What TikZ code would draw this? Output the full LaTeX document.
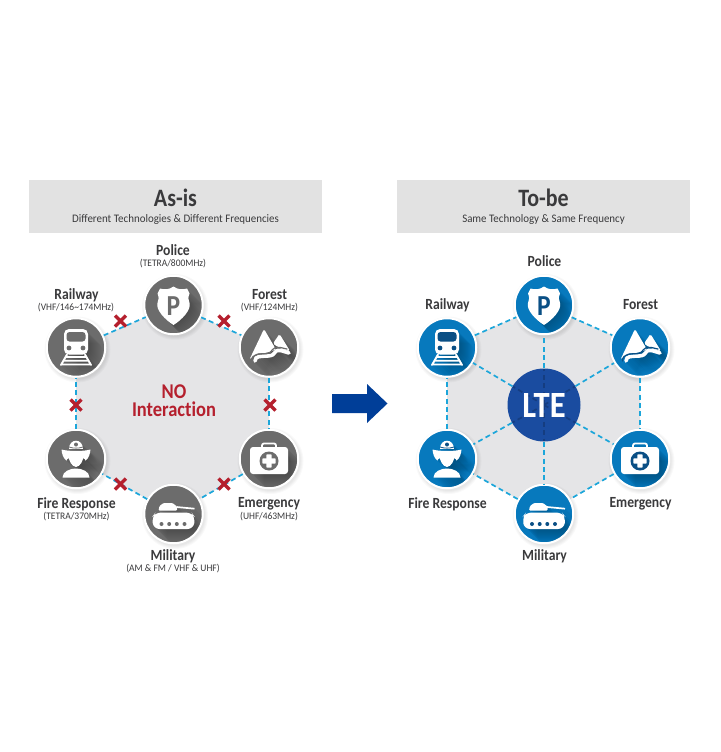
\documentclass[tikz,border=0pt]{standalone}
\usepackage{fontspec}
\setmainfont{Carlito}[Ligatures=NoCommon]
\newfontfamily\fmain[FakeStretch=0.88,Ligatures=NoCommon]{Carlito}
\newfontfamily\fsub[FakeStretch=0.95,Ligatures=NoCommon]{Carlito}
\usetikzlibrary{backgrounds,calc}
\definecolor{txt}{HTML}{3A3A3C}
\definecolor{boxc}{HTML}{E2E2E2}
\definecolor{hexc}{HTML}{E5E5E7}
\definecolor{dashc}{HTML}{1CA6DA}
\definecolor{redx}{HTML}{B5202E}
\definecolor{greyc}{HTML}{6C6C6C}
\definecolor{bluec}{HTML}{0779BD}
\definecolor{bluedk}{HTML}{0A4F85}
\definecolor{ltec}{HTML}{1A4CA0}
\definecolor{arrowc}{HTML}{003E98}
\colorlet{fg}{greyc}
\tikzset{
  x=1pt,y=-1pt,
  hub/.style={circle,minimum size=58.5pt,inner sep=0pt,draw=white,line width=2pt,fill=#1},
  link/.style={dashc,line width=1.7pt,dash pattern=on 5pt off 3.4pt},
  hexbg/.style={fill=hexc,draw=none},
  title/.style={font=\fontsize{25}{25}\fmain\bfseries,text=txt,inner sep=0pt},
  subt/.style={font=\fontsize{11.5}{12}\fsub,text=txt,inner sep=0pt},
  lab/.style={font=\fontsize{15.5}{15}\fmain\bfseries,text=txt,inner sep=0pt},
  sublab/.style={font=\fontsize{10}{10}\fsub,text=txt,inner sep=0pt},
  redlab/.style={font=\fontsize{21}{18}\fmain\bfseries,text=redx,inner sep=0pt,align=center},
  xmark/.style={draw=redx,line width=3.2pt},
  ic/.style={fill=white,draw=white},
  icshadow/.style={fill=black,draw=black,opacity=.018},
}
\newcommand{\xat}[1]{\draw[xmark] ($(#1)+(-5.5,-5.5)$) -- ($(#1)+(5.5,5.5)$) ($(#1)+(-5.5,5.5)$) -- ($(#1)+(5.5,-5.5)$);}
\newcommand{\shieldshape}{(0,-18.5) .. controls (4,-15.5) and (9,-15) .. (13.5,-16.5) -- (16,-11.5) .. controls (14.5,-8) and (14.5,-5) .. (16,-2) .. controls (18,5) and (8,15) .. (0,20) .. controls (-8,15) and (-18,5) .. (-16,-2) .. controls (-14.5,-5) and (-14.5,-8) .. (-16,-11.5) -- (-13.5,-16.5) .. controls (-9,-15) and (-4,-15.5) .. (0,-18.5) -- cycle}
\newcommand{\icpolice}[1]{\fill[#1,draw=none] \shieldshape;}
\newcommand{\icpolicefg}{\node[font=\fontsize{29}{29}\fmain\bfseries,text=fg,inner sep=0pt] (p) at (0,1) {P};}
\newcommand{\ictrain}[1]{
  \fill[#1,draw=none,rounded corners=5pt] (-12,-18.5) rectangle (12,7);
  \draw[#1,fill=none,line width=1.9pt,line cap=round,line join=round] (-9,7) -- (-15,17.5) (9,7) -- (15,17.5) (-14.5,17) -- (14.5,17) (-10.5,9.5) -- (10.5,9.5) (-12.5,13.2) -- (12.5,13.2);
}
\newcommand{\ictrainfg}{
  \fill[fg,rounded corners=3pt] (-9.5,-15.5) rectangle (9.5,-6);
  \fill[fg] (-7,0.5) circle (2.4) (7,0.5) circle (2.4);
}
\newcommand{\icforest}[1]{
  \fill[#1,draw=none,rounded corners=1.5pt] (-5,-18.5) -- (7,2) -- (-3,5.5) -- (-12,6) -- (-19.5,12) -- cycle;
  \fill[#1,draw=none,rounded corners=1.5pt] (10.5,-13.5) -- (21,3.5) -- (16,3) -- (8,-1) -- (4,-4) -- cycle;
  \draw[#1,fill=none,line width=3.6pt,line cap=round] (-14,13.5) .. controls (-14,8) and (-8,9) .. (-1,8.5) .. controls (8,8) and (4,2) .. (11,3) .. controls (15,3.5) and (17,5) .. (20,5.5);
}
\newcommand{\icforestfg}{
  \draw[fg,line width=1.2pt,line cap=round] (-17.5,13.5) .. controls (-17.5,5.5) and (-9,6.5) .. (-1.5,6) .. controls (4,5.5) and (1.5,-1.5) .. (11.5,0) .. controls (14,.5) and (16,1.2) .. (18,1.5);
}
\newcommand{\icfire}[1]{
  \fill[#1,draw=none] (-7,-10) .. controls (-7,-21) and (7,-21) .. (7,-10) -- cycle;
  \fill[#1,draw=none] (-14.5,-9.5) .. controls (-8,-7.5) and (8,-7.5) .. (14.5,-9.5) .. controls (14,-5) and (13,-1) .. (9.5,1.5) .. controls (9.5,-3) and (-9.5,-3) .. (-9.5,1.5) .. controls (-13,-1) and (-14,-5) .. (-14.5,-9.5) -- cycle;
  \fill[#1,draw=none] (-7.5,-4) .. controls (-5,-5) and (5,-5) .. (7.5,-4) .. controls (7.5,2) and (4,7.5) .. (0,8) .. controls (-4,7.5) and (-7.5,2) .. (-7.5,-4) -- cycle;
  \fill[#1,draw=none] (-13.5,18.5) .. controls (-13.5,12.5) and (-6,9.5) .. (0,9.5) .. controls (6,9.5) and (13.5,12.5) .. (13.5,18.5) -- cycle;
}
\newcommand{\icfirefg}{
  \draw[fg,line width=.8pt] (-7,-12) .. controls (-3,-10.5) and (3,-10.5) .. (7,-12);
  \fill[fg] (0,-14.5) circle (2);
}
\newcommand{\icaid}[1]{
  \fill[#1,draw=none,rounded corners=3pt] (-19,-12) rectangle (19,15);
  \draw[#1,fill=none,line width=1.8pt,rounded corners=2pt] (-7,-11) -- (-7,-15.5) -- (7,-15.5) -- (7,-11);
}
\newcommand{\icaidfg}{
  \fill[fg] (0,2) circle (9.5);
  \fill[white,rounded corners=.6pt] (-2.6,-4.6) rectangle (2.6,8.6);
  \fill[white,rounded corners=.6pt] (-6.6,-0.6) rectangle (6.6,4.6);
}
\newcommand{\ictank}[1]{
  \fill[#1,draw=none,rounded corners=6pt] (-21.5,3) -- (-18,-1.5) -- (18,-1.5) -- (21.5,3) -- (20,15) -- (-20,15) -- cycle;
  \fill[#1,draw=none,rounded corners=1pt] (-15,-3.5) -- (-14,-8) -- (-10,-11) -- (-1,-11) -- (3.5,-7.5) -- (3.5,-3.5) -- cycle;
  \draw[#1,fill=none,line width=1.7pt] (3,-7) -- (21,-5.3);
}
\newcommand{\ictankfg}{
  \fill[fg] (-12,10) circle (2) (-4.3,10) circle (2) (3.3,10) circle (2) (11,10) circle (2);
}
\newcommand{\placeicon}[4]{
  \colorlet{fg}{#4}
  \begin{scope}
    \clip (#1.center) circle (28.2);
    \begin{scope}[shift={(#1.center)}]
      \foreach \s in {1,2,...,14}{
        \begin{scope}[shift={(\s,\s)}] #2{icshadow} \end{scope}
      }
      #2{ic}
      #3
    \end{scope}
  \end{scope}
}
\newcommand{\halo}[1]{
  \foreach \r in {30,31,32,33}{\fill[black,opacity=.022] ($(#1)+(1.5,2)$) circle (\r);}
}
\begin{document}
\begin{tikzpicture}
\useasboundingbox (0,0) rectangle (720,752);
% headers
\fill[boxc] (29,180) rectangle (322,233);
\fill[boxc] (397,180) rectangle (690,233);
\node[title] (t1) at (175.5,198) {As-is};
\node[subt] (s1) at (175.5,219.5) {Different Technologies \& Different Frequencies};
\node[title] (t2) at (543.5,198) {To-be};
\node[subt] (s2) at (543.5,219.5) {Same Technology \& Same Frequency};
% left hubs
\node[hub=greyc] (lp) at (173.5,305) {};
\node[hub=greyc] (lr) at (76,347.5) {};
\node[hub=greyc] (lf) at (269,347.5) {};
\node[hub=greyc] (lx) at (76,459) {};
\node[hub=greyc] (le) at (269,459) {};
\node[hub=greyc] (lm) at (173.5,514) {};
% right hubs
\node[hub=bluec] (rp) at (544,305) {};
\node[hub=bluec] (rr) at (447,347.5) {};
\node[hub=bluec] (rf) at (640,347.5) {};
\node[hub=bluec] (rx) at (447,459) {};
\node[hub=bluec] (re) at (640,459) {};
\node[hub=bluec] (rm) at (544,514) {};
\node[circle,minimum size=73pt,inner sep=0pt,fill=ltec] (lte) at (544,405) {};
\begin{pgfonlayer}{background}
  \fill[white] (0,0) rectangle (720,752);
  \fill[hexbg] (lp.center) -- (lf.center) -- (le.center) -- (lm.center) -- (lx.center) -- (lr.center) -- cycle;
  \fill[hexbg] (rp.center) -- (rf.center) -- (re.center) -- (rm.center) -- (rx.center) -- (rr.center) -- cycle;
  \foreach \h in {lp,lr,lf,lx,le,lm,rp,rr,rf,rx,re,rm}{\halo{\h}}
\end{pgfonlayer}
% connectors
\draw[link] (lp) -- (lf);
\draw[link] (lf) -- (le);
\draw[link] (le) -- (lm);
\draw[link] (lm) -- (lx);
\draw[link] (lx) -- (lr);
\draw[link] (lr) -- (lp);
\draw[link] (rp) -- (rf);
\draw[link] (rf) -- (re);
\draw[link] (re) -- (rm);
\draw[link] (rm) -- (rx);
\draw[link] (rx) -- (rr);
\draw[link] (rr) -- (rp);
\draw[link] (lte) -- (rp);
\draw[link] (lte) -- (rf);
\draw[link] (lte) -- (re);
\draw[link] (lte) -- (rm);
\draw[link] (lte) -- (rx);
\draw[link] (lte) -- (rr);
% spokes showing through the LTE disc
\foreach \t in {rp,rf,re,rm,rx,rr}{\draw[link,draw=ltec!80!black] (lte.center) -- ($(lte.center)!36pt!(\t.center)$);}
\node[text=white,font=\fontsize{37}{37}\fmain\bfseries,inner sep=0pt] (ltet) at (544,405) {LTE};
% crosses
\coordinate (x1) at (120.5,321);
\coordinate (x2) at (224,321);
\coordinate (x3) at (76,405);
\coordinate (x4) at (270,405);
\coordinate (x5) at (120.5,484);
\coordinate (x6) at (224,484);
\xat{x1}\xat{x2}\xat{x3}\xat{x4}\xat{x5}\xat{x6}
% icons
\placeicon{lp}{\icpolice}{\icpolicefg}{greyc}
\placeicon{lr}{\ictrain}{\ictrainfg}{greyc}
\placeicon{lf}{\icforest}{\icforestfg}{greyc}
\placeicon{lx}{\icfire}{\icfirefg}{greyc}
\placeicon{le}{\icaid}{\icaidfg}{greyc}
\placeicon{lm}{\ictank}{\ictankfg}{greyc}
\placeicon{rp}{\icpolice}{\icpolicefg}{bluedk}
\placeicon{rr}{\ictrain}{\ictrainfg}{bluedk}
\placeicon{rf}{\icforest}{\icforestfg}{bluedk}
\placeicon{rx}{\icfire}{\icfirefg}{bluedk}
\placeicon{re}{\icaid}{\icaidfg}{bluedk}
\placeicon{rm}{\ictank}{\ictankfg}{bluedk}
% labels left
\node[lab] (a1) at (173,250.5) {Police};
\node[sublab] (a2) at (173,263.5) {(TETRA/800MHz)};
\node[lab] (a3) at (76.5,295) {Railway};
\node[sublab] (a4) at (76,307.5) {(VHF/146\textasciitilde174MHz)};
\node[lab] (a5) at (269.5,294.5) {Forest};
\node[sublab] (a6) at (269.5,307.5) {(VHF/124MHz)};
\node[lab] (a7) at (76.5,504) {Fire Response};
\node[sublab] (a8) at (76.5,517) {(TETRA/370MHz)};
\node[lab] (a9) at (269,504) {Emergency};
\node[sublab] (a10) at (269,517) {(UHF/463MHz)};
\node[lab] (a11) at (173,556) {Military};
\node[sublab] (a12) at (173,569) {(AM \& FM / VHF \& UHF)};
\node[redlab] (n1) at (174,401) {NO\\Interaction};
% labels right
\node[lab] (b1) at (544.5,261.5) {Police};
\node[lab] (b2) at (447.5,305) {Railway};
\node[lab] (b3) at (640.5,304.5) {Forest};
\node[lab] (b4) at (447.5,504) {Fire Response};
\node[lab] (b5) at (640.5,504) {Emergency};
\node[lab] (b6) at (544.5,556) {Military};
% big arrow
\fill[arrowc] (332,394) -- (367,394) -- (367,384) -- (387.5,403.5) -- (367,423) -- (367,413) -- (332,413) -- cycle;
\end{tikzpicture}
\end{document}
